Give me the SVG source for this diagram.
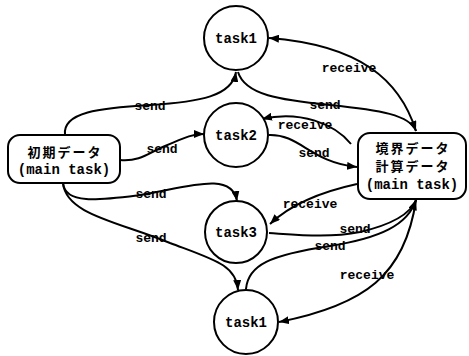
<svg xmlns="http://www.w3.org/2000/svg" width="469" height="356" viewBox="0 0 469 356">
<style>
.n{fill:#fff;stroke:#000;stroke-width:2}
.e{fill:none;stroke:#000;stroke-width:2}
.t{font-family:"Liberation Mono","Noto Sans CJK JP",monospace;font-weight:bold;font-size:14px;text-anchor:middle;fill:#000}
.l{font-family:"Liberation Mono","Noto Sans CJK JP",monospace;font-weight:bold;font-size:13px;text-anchor:middle;fill:#000}
.j{font-family:"Noto Sans CJK JP",sans-serif;font-weight:bold;font-size:13px;letter-spacing:2px;text-anchor:middle;fill:#000}
</style>
<defs>
<marker id="a" markerWidth="10" markerHeight="8" refX="10" refY="4" orient="auto" markerUnits="userSpaceOnUse">
<path d="M0,0 L10,4 L0,8 z" fill="#000"/>
</marker>
</defs>
<g id="connectors">
<path class="e" marker-end="url(#a)" d="M65,135 C62,112 100,108 150,105 C200,102 232,96 236,72"/>
<path class="e" marker-end="url(#a)" d="M238,72 C245,95 280,100 330,105 C380,110 410,115 416,131"/>
<path class="e" marker-end="url(#a)" d="M416,131 C400,80 360,45 269,38"/>
<path class="e" marker-end="url(#a)" d="M120,160 C140,162 150,152 165,146 C180,140 190,134 204,134"/>
<path class="e" marker-end="url(#a)" d="M351,144 C335,124 300,110 262,119"/>
<path class="e" marker-end="url(#a)" d="M269,135 C300,134 310,162 357,167"/>
<path class="e" marker-end="url(#a)" d="M63,183 C65,205 100,200 140,195 C185,188 232,170 237,201"/>
<path class="e" marker-end="url(#a)" d="M63,183 C66,215 120,222 170,243 C215,260 236,265 238,290"/>
<path class="e" marker-end="url(#a)" d="M357,184 C320,192 290,205 270,224"/>
<path class="e" marker-end="url(#a)" d="M269,233 C300,235 330,238 360,232 C390,225 410,215 416,200"/>
<path class="e" marker-end="url(#a)" d="M246,289 C248,265 270,255 330,246 C380,238 408,225 416,200"/>
<path class="e" marker-end="url(#a)" d="M416,200 C405,275 365,305 279,322"/>
<text class="l" x="150" y="110">send</text>
<text class="l" x="162" y="153">send</text>
<text class="l" x="349" y="72">receive</text>
<text class="l" x="325" y="109">send</text>
<text class="l" x="305" y="129">receive</text>
<text class="l" x="314" y="157">send</text>
<text class="l" x="151" y="198">send</text>
<text class="l" x="151" y="242">send</text>
<text class="l" x="310" y="208">receive</text>
<text class="l" x="355" y="233">send</text>
<text class="l" x="330" y="250">send</text>
<text class="l" x="367" y="279">receive</text>
</g>
<g id="task1top">
<circle class="n" cx="236" cy="38" r="32"/>
<text class="t" x="236" y="43">task1</text>
</g>
<g id="task2">
<circle class="n" cx="236" cy="135" r="32"/>
<text class="t" x="236" y="140">task2</text>
</g>
<g id="task3">
<circle class="n" cx="236" cy="232" r="31"/>
<text class="t" x="236" y="237">task3</text>
</g>
<g id="task1bottom">
<circle class="n" cx="246" cy="322" r="32"/>
<text class="t" x="246" y="327">task1</text>
</g>
<g id="initdata">
<rect class="n" x="8" y="135" width="112" height="48" rx="12"/>
<text class="j" x="65" y="157">初期データ</text>
<text class="t" x="64" y="174">(main task)</text>
</g>
<g id="boundary">
<rect class="n" x="358" y="133" width="108" height="66" rx="12"/>
<text class="j" x="413" y="153">境界データ</text>
<text class="j" x="413" y="171">計算データ</text>
<text class="t" x="412" y="189">(main task)</text>
</g>
</svg>
